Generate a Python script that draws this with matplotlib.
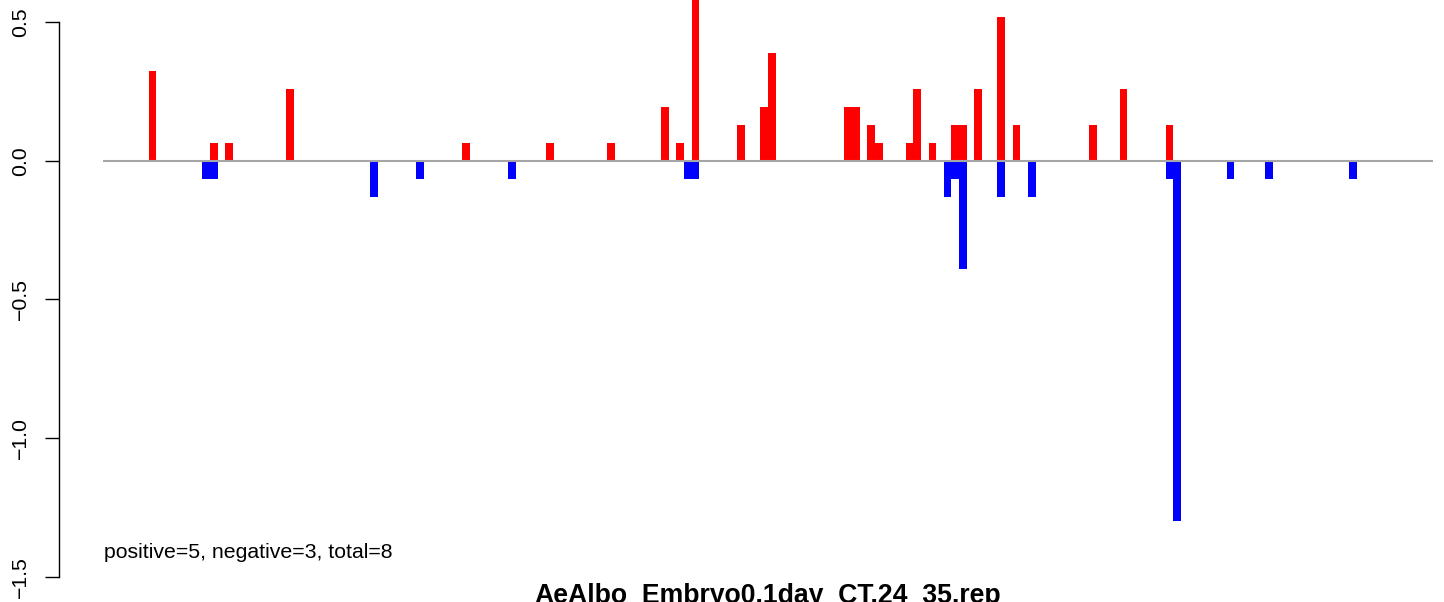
import numpy as np
import matplotlib
matplotlib.use("Agg")
import matplotlib.pyplot as plt

plt.rcParams['font.family'] = ['Liberation Sans', 'DejaVu Sans']

title = "AeAlbo_Embryo0.1day_CT.24_35.rep"
note = "positive=5, negative=3, total=8"

#POSITIVE BINS
pos_idx = [0, 8, 10, 18, 41, 52, 60, 67, 69, 71, 77, 80, 81, 91, 92, 94, 95,
           99, 100, 102, 105, 106, 108, 111, 113, 123, 127, 133]
pos_val = [0.325, 0.065, 0.065, 0.26, 0.065, 0.065, 0.065, 0.195, 0.065, 0.65,
           0.13, 0.195, 0.39, 0.195, 0.195, 0.13, 0.065, 0.065, 0.26, 0.065,
           0.13, 0.13, 0.26, 0.52, 0.13, 0.13, 0.26, 0.13]

#NEGATIVE BINS
neg_idx = [7, 8, 29, 35, 47, 70, 71, 104, 105, 106, 111, 115, 133, 134, 141, 146, 157]
neg_val = [-0.065, -0.065, -0.13, -0.065, -0.065, -0.065, -0.065, -0.13, -0.065,
           -0.39, -0.13, -0.13, -0.065, -1.3, -0.065, -0.065, -0.065]

n_bins = 161

W, H = 1444, 602
fig = plt.figure(figsize=(W / 100, H / 100), dpi=100)
ax = fig.add_axes([103.3 / W, 2 / H, (1432.7 - 103.3) / W, 600 / H])

ax.bar(pos_idx, pos_val, width=1.0, color='#FF0000', linewidth=0, antialiased=False)
ax.bar(neg_idx, neg_val, width=1.0, color='#0000FF', linewidth=0, antialiased=False)
ax.axhline(0, color='#A6A6A6', linewidth=1.5, zorder=3)

pad = 0.04 * n_bins
ax.set_xlim(-pad, n_bins + pad)
ax.set_ylim(-1.584, 0.5795)

#AXES
for s in ['top', 'right', 'bottom']:
    ax.spines[s].set_visible(False)
ax.spines['left'].set_position(('outward', 32))
ax.spines['left'].set_bounds(-1.5, 0.5)
ax.spines['left'].set_linewidth(1.0)
ax.set_xticks([])
ax.set_yticks([-1.5, -1.0, -0.5, 0.0, 0.5])
ax.set_yticklabels(['\u22121.5', '\u22121.0', '\u22120.5', '0.0', '0.5'],
                   rotation=90, va='center', fontsize=15.3)
ax.tick_params(axis='y', length=10, width=1.0, pad=10.5)

ax.text(0.0005, -1.411, note, transform=ax.get_yaxis_transform(),
        ha='left', va='center', fontsize=15.3)

fig.text((103.3 + 1432.7) / 2 / W, (H - 603) / H, title, ha='center',
         va='baseline', fontsize=19.2, fontweight='bold')

fig.savefig("out.png", dpi=100)
